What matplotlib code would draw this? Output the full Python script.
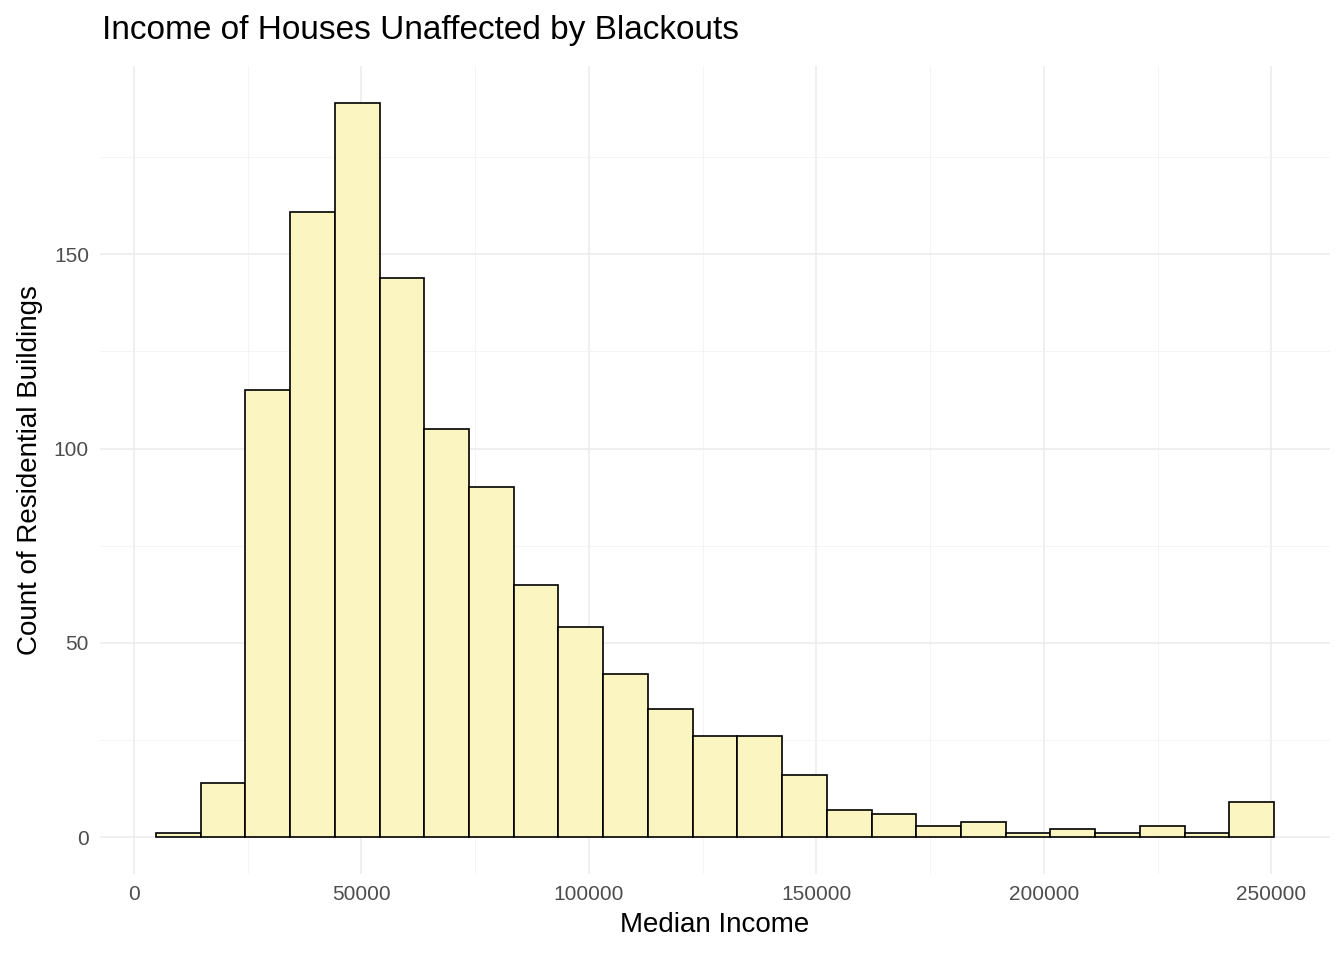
import numpy as np
import matplotlib
matplotlib.use("Agg")
import matplotlib.pyplot as plt

plt.rcParams["font.family"] = ["Liberation Sans", "DejaVu Sans"]

# histogram bins
bin_start = 4850
bin_width = 9830
counts = [1, 14, 115, 161, 189, 144, 105, 90, 65, 54, 42, 33, 26, 26, 16,
          7, 6, 3, 4, 1, 2, 1, 3, 1, 9]
edges = bin_start + bin_width * np.arange(len(counts) + 1)

fig = plt.figure(figsize=(13.44, 9.6), dpi=100)
ax = fig.add_axes([100 / 1344, 86 / 960, 1230 / 1344, 808 / 960])
ax.bar(edges[:-1], counts, width=bin_width, align="edge", color="#FBF5C2",
       edgecolor="black", linewidth=1.2, zorder=3)

lo, hi = edges[0], edges[-1]
pad = 0.05 * (hi - lo)
ax.set_xlim(lo - pad, hi + pad)
ymax = max(counts)
ax.set_ylim(-0.05 * ymax, ymax * 1.05)

ax.set_xticks(np.arange(0, 250001, 50000))
ax.set_xticks(np.arange(25000, 250001, 50000), minor=True)
ax.set_yticks([0, 50, 100, 150])
ax.set_yticks([25, 75, 125, 175], minor=True)
ax.grid(which="major", color="#EBEBEB", linewidth=1.1, zorder=0)
ax.grid(which="minor", color="#F3F3F3", linewidth=0.6, zorder=0)
for s in ax.spines.values():
    s.set_visible(False)
ax.tick_params(which="both", length=0, labelsize=15, labelcolor="#4D4D4D", pad=8)

ax.set_xlabel("Median Income", fontsize=20, labelpad=6)
ax.set_ylabel("Count of Residential Buildings", fontsize=20, labelpad=8)
fig.text(102 / 1344, 1 - 30 / 960, "Income of Houses Unaffected by Blackouts",
         fontsize=24, va="center", ha="left")

fig.savefig("out.png", dpi=100)
